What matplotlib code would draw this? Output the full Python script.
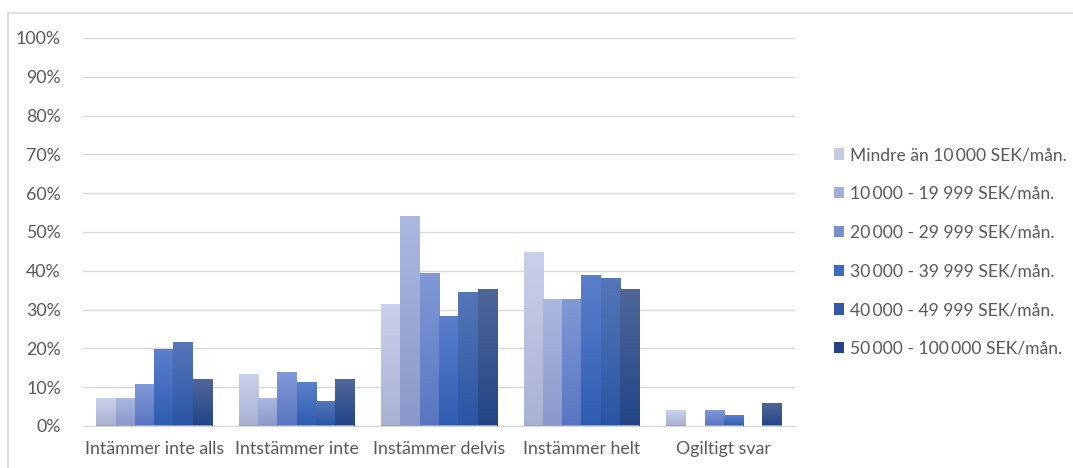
import matplotlib.pyplot as plt
import numpy as np
from matplotlib.colors import LinearSegmentedColormap
from matplotlib.patches import Patch
from matplotlib.lines import Line2D
from matplotlib.ticker import PercentFormatter

plt.rcParams['font.family'] = ['Lato', 'DejaVu Sans']

categories = ['Intämmer inte alls', 'Intstämmer inte', 'Instämmer delvis',
              'Instämmer helt', 'Ogiltigt svar']
series_labels = ['Mindre än 10\u2009000 SEK/mån.',
                 '10\u2009000 - 19 999 SEK/mån.',
                 '20\u2009000 - 29 999 SEK/mån.',
                 '30\u2009000 - 39 999 SEK/mån.',
                 '40\u2009000 - 49 999 SEK/mån.',
                 '50\u2009000 - 100\u2009000 SEK/mån.']
values = [
    [0.070, 0.134, 0.312, 0.448, 0.039],
    [0.070, 0.070, 0.539, 0.325, 0.000],
    [0.108, 0.139, 0.394, 0.325, 0.039],
    [0.196, 0.113, 0.281, 0.389, 0.026],
    [0.216, 0.062, 0.345, 0.379, 0.000],
    [0.119, 0.119, 0.351, 0.351, 0.057],
]

# gradient (top, bottom) for each series, plus the flat legend swatch colour
grad_top = ['#CBD1EA', '#ABB8E0', '#8199D6', '#5B80CC', '#5676B8', '#506699']
grad_bot = ['#A9B1D2', '#8A98CA', '#5975C1', '#2E5CB0', '#2955A3', '#214587']
legend_colors = ['#C5CBE5', '#A3AED9', '#7890D0', '#3E6AC3', '#3358A8', '#274383']

text_color = '#595959'
grid_color = '#D9D9D9'

fig = plt.figure(figsize=(10.73, 4.68), dpi=100)
ax = fig.add_axes([83 / 1073, 1 - 426 / 468, (795 - 83) / 1073, (426 - 38) / 468])

x = np.arange(len(categories))
n = len(values)
width = 0.1355
gradient = np.linspace(1, 0, 256).reshape(-1, 1)

for i, vals in enumerate(values):
    cmap = LinearSegmentedColormap.from_list(f's{i}', [grad_bot[i], grad_top[i]])
    offs = (i - (n - 1) / 2) * width
    for xc, v in zip(x + offs, vals):
        if v <= 0:
            continue
        x0, x1 = xc - width / 2, xc + width / 2
        ax.imshow(gradient, cmap=cmap, aspect='auto', extent=(x0, x1, 0, v),
                  origin='upper', zorder=3, interpolation='bicubic')
        ax.plot([x0, x1], [0, 0], color='#8EA5D6', lw=1.3, zorder=4,
                solid_capstyle='butt')

ax.set_xlim(-0.5, len(categories) - 0.5)
ax.set_ylim(0, 1)
ax.set_yticks(np.arange(0, 1.01, 0.1))
ax.yaxis.set_major_formatter(PercentFormatter(1.0, decimals=0))
ax.set_xticks(x)
ax.set_xticklabels(categories)
ax.tick_params(length=0, labelsize=12.8, colors=text_color)
ax.tick_params(axis='x', pad=11)
ax.tick_params(axis='y', pad=16)
ax.grid(axis='y', color=grid_color, lw=1, zorder=0)
for side in ['top', 'right', 'left']:
    ax.spines[side].set_visible(False)
ax.spines['bottom'].set_color(grid_color)

handles = [Patch(facecolor=c, edgecolor='none') for c in legend_colors]
fig.legend(handles, series_labels, loc='center left',
           bbox_to_anchor=(818 / 1073, 1 - 252 / 468), frameon=False,
           fontsize=12.6, labelcolor=text_color, handlelength=0.6,
           handleheight=0.6, handletextpad=0.35, labelspacing=1.3)

# chart area border (left and top edges)
fig.add_artist(Line2D([8 / 1073, 8 / 1073], [0, 1 - 13 / 468],
                      color=grid_color, lw=1.2, transform=fig.transFigure))
fig.add_artist(Line2D([8 / 1073, 1], [1 - 13 / 468, 1 - 13 / 468],
                      color=grid_color, lw=1.2, transform=fig.transFigure))

fig.savefig('out.png', dpi=100)
